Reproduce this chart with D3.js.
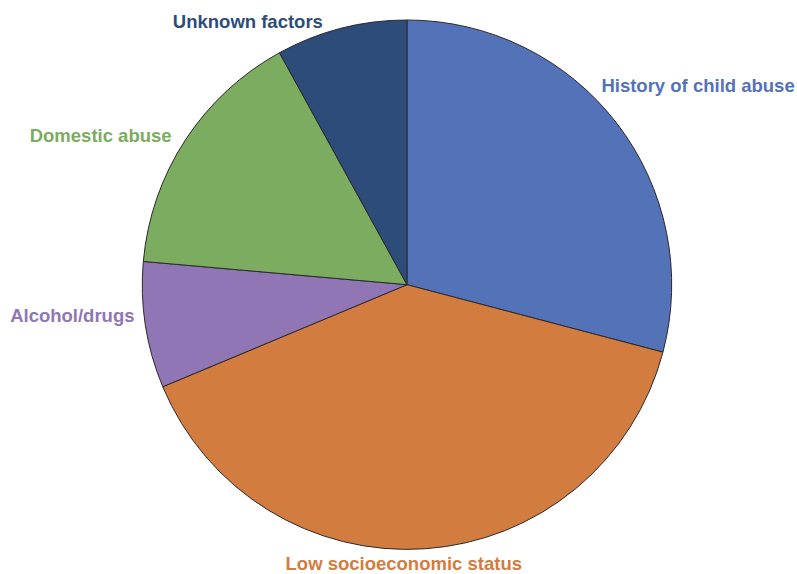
<!DOCTYPE html>
<html>
<head>
<meta charset="utf-8">
<script src="https://cdn.jsdelivr.net/npm/d3@7"></script>
<style>
  html, body { margin: 0; padding: 0; background: #fff; }
  svg { display: block; }
  .label { font-family: "Liberation Sans", Arial, Helvetica, sans-serif; font-weight: bold; font-size: 18.5px; }
</style>
</head>
<body>
<svg id="chart" width="797" height="574"></svg>
<script>
// Risk factors and their share (%)
const categories = ["History of child abuse", "Low socioeconomic status", "Alcohol/drugs", "Domestic abuse", "Unknown factors"];
const values = [29.1, 39.6, 7.7, 15.6, 8.0];
const colors = ["#5472b8", "#d27c3f", "#9076b4", "#7bac5f", "#2d4c79"];

// Label placement: anchor side and a small shift from the slice's mid-angle point
const labelAnchor = ["start", "middle", "end", "end", "end"];
const labelShift = [[-32, -18], [-23, 0], [10, -7], [4, 13], [-13, 20]];

const width = 797, height = 574;
const cx = 407, cy = 284.7, radius = 264.7;

const svg = d3.select("#chart");
const g = svg.append("g").attr("transform", `translate(${cx},${cy})`);

const data = categories.map((c, i) => ({ name: c, value: values[i], i }));

const pie = d3.pie().value(d => d.value).sort(null);
const arc = d3.arc().innerRadius(0).outerRadius(radius);
const arcs = pie(data);

g.selectAll("path.slice")
  .data(arcs)
  .join("path")
  .attr("class", "slice")
  .attr("d", arc)
  .attr("fill", d => colors[d.data.i])
  .attr("stroke", "#2a2a2a")
  .attr("stroke-width", 1)
  .attr("stroke-linejoin", "round");

const labelR = radius * 1.08;
g.selectAll("text.label")
  .data(arcs)
  .join("text")
  .attr("class", "label")
  .attr("x", d => {
    const a = (d.startAngle + d.endAngle) / 2;
    return labelR * Math.sin(a) + labelShift[d.data.i][0];
  })
  .attr("y", d => {
    const a = (d.startAngle + d.endAngle) / 2;
    return -labelR * Math.cos(a) + labelShift[d.data.i][1];
  })
  .attr("text-anchor", d => labelAnchor[d.data.i])
  .attr("fill", d => colors[d.data.i])
  .text(d => d.data.name);
</script>
</body>
</html>
